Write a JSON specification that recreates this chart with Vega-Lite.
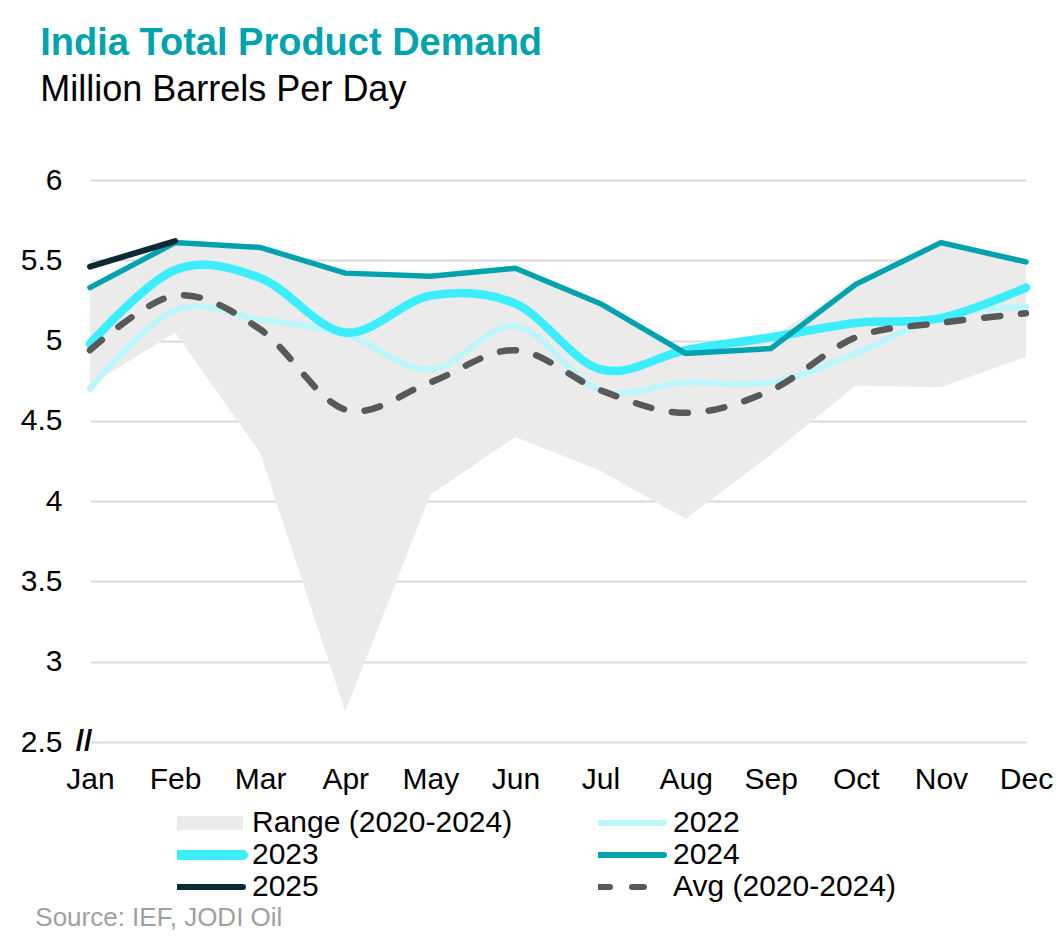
{
  "$schema": "https://vega.github.io/schema/vega-lite/v6.json",
  "background": "white",
  "padding": {"left": 20, "top": 25, "right": 20, "bottom": 5},
  "config": {"font": "Liberation Sans", "view": {"stroke": null}},
  "title": {"text": "Source: IEF, JODI Oil", "orient": "bottom", "anchor": "start", "frame": "bounds", "dx": 15, "fontSize": 26, "fontWeight": "normal", "color": "#A0A0A0", "font": "Liberation Sans", "offset": 2},
  "datasets": {
    "range": [
      {"month": "Jan", "series": "Range (2020-2024)", "low": 4.72, "high": 5.33},
      {"month": "Feb", "series": "Range (2020-2024)", "low": 5.05, "high": 5.61},
      {"month": "Mar", "series": "Range (2020-2024)", "low": 4.30, "high": 5.58},
      {"month": "Apr", "series": "Range (2020-2024)", "low": 2.69, "high": 5.42},
      {"month": "May", "series": "Range (2020-2024)", "low": 4.04, "high": 5.40},
      {"month": "Jun", "series": "Range (2020-2024)", "low": 4.40, "high": 5.45},
      {"month": "Jul", "series": "Range (2020-2024)", "low": 4.19, "high": 5.23},
      {"month": "Aug", "series": "Range (2020-2024)", "low": 3.89, "high": 4.94},
      {"month": "Sep", "series": "Range (2020-2024)", "low": 4.29, "high": 5.02},
      {"month": "Oct", "series": "Range (2020-2024)", "low": 4.72, "high": 5.35},
      {"month": "Nov", "series": "Range (2020-2024)", "low": 4.71, "high": 5.61},
      {"month": "Dec", "series": "Range (2020-2024)", "low": 4.90, "high": 5.49}
    ],
    "lines": [
      {"month": "Jan", "series": "2022", "value": 4.70},
      {"month": "Feb", "series": "2022", "value": 5.19},
      {"month": "Mar", "series": "2022", "value": 5.13},
      {"month": "Apr", "series": "2022", "value": 5.04},
      {"month": "May", "series": "2022", "value": 4.82},
      {"month": "Jun", "series": "2022", "value": 5.09},
      {"month": "Jul", "series": "2022", "value": 4.69},
      {"month": "Aug", "series": "2022", "value": 4.74},
      {"month": "Sep", "series": "2022", "value": 4.74},
      {"month": "Oct", "series": "2022", "value": 4.92},
      {"month": "Nov", "series": "2022", "value": 5.15},
      {"month": "Dec", "series": "2022", "value": 5.21},
      {"month": "Jan", "series": "2023", "value": 4.98},
      {"month": "Feb", "series": "2023", "value": 5.44},
      {"month": "Mar", "series": "2023", "value": 5.39},
      {"month": "Apr", "series": "2023", "value": 5.05},
      {"month": "May", "series": "2023", "value": 5.28},
      {"month": "Jun", "series": "2023", "value": 5.23},
      {"month": "Jul", "series": "2023", "value": 4.82},
      {"month": "Aug", "series": "2023", "value": 4.94},
      {"month": "Sep", "series": "2023", "value": 5.02},
      {"month": "Oct", "series": "2023", "value": 5.11},
      {"month": "Nov", "series": "2023", "value": 5.14},
      {"month": "Dec", "series": "2023", "value": 5.33},
      {"month": "Jan", "series": "2024", "value": 5.33},
      {"month": "Feb", "series": "2024", "value": 5.61},
      {"month": "Mar", "series": "2024", "value": 5.58},
      {"month": "Apr", "series": "2024", "value": 5.42},
      {"month": "May", "series": "2024", "value": 5.40},
      {"month": "Jun", "series": "2024", "value": 5.45},
      {"month": "Jul", "series": "2024", "value": 5.23},
      {"month": "Aug", "series": "2024", "value": 4.92},
      {"month": "Sep", "series": "2024", "value": 4.95},
      {"month": "Oct", "series": "2024", "value": 5.35},
      {"month": "Nov", "series": "2024", "value": 5.61},
      {"month": "Dec", "series": "2024", "value": 5.49},
      {"month": "Jan", "series": "2025", "value": 5.46},
      {"month": "Feb", "series": "2025", "value": 5.62},
      {"month": "Jan", "series": "Avg (2020-2024)", "value": 4.94},
      {"month": "Feb", "series": "Avg (2020-2024)", "value": 5.28},
      {"month": "Mar", "series": "Avg (2020-2024)", "value": 5.07},
      {"month": "Apr", "series": "Avg (2020-2024)", "value": 4.57},
      {"month": "May", "series": "Avg (2020-2024)", "value": 4.74},
      {"month": "Jun", "series": "Avg (2020-2024)", "value": 4.94},
      {"month": "Jul", "series": "Avg (2020-2024)", "value": 4.69},
      {"month": "Aug", "series": "Avg (2020-2024)", "value": 4.55},
      {"month": "Sep", "series": "Avg (2020-2024)", "value": 4.69},
      {"month": "Oct", "series": "Avg (2020-2024)", "value": 5.02},
      {"month": "Nov", "series": "Avg (2020-2024)", "value": 5.11},
      {"month": "Dec", "series": "Avg (2020-2024)", "value": 5.17}
    ],
    "brk": [{"month": "Jan", "value": 2.5, "label": "//"}]
  },
  "vconcat": [
    {
      "width": 936,
      "height": 562,
      "title": {"text": "India Total Product Demand", "subtitle": "Million Barrels Per Day", "anchor": "start", "frame": "bounds", "dx": 20, "fontSize": 38, "fontWeight": "bold", "color": "#00A3AD", "font": "Liberation Sans", "subtitleFont": "Liberation Sans", "subtitleFontSize": 36, "subtitleColor": "#000000", "subtitlePadding": 10, "offset": 57},
      "encoding": {
        "x": {"field": "month", "type": "ordinal", "scale": {"type": "point", "padding": 0, "domain": ["Jan","Feb","Mar","Apr","May","Jun","Jul","Aug","Sep","Oct","Nov","Dec"]},
              "axis": {"title": null, "labelAngle": 0, "labelFontSize": 30, "labelColor": "#000000", "labelPadding": 22, "ticks": false, "domain": false, "grid": false}},
        "color": {"field": "series", "type": "nominal", "scale": {"domain": ["Range (2020-2024)","2022","2023","2024","2025","Avg (2020-2024)"], "range": ["#EBEBEB","#BDF6FA","#3CEEFC","#00A3AD","#0C2A35","#595959"]},
                  "legend": {"title": null, "orient": "none", "legendX": 87, "legendY": 627, "direction": "horizontal", "columns": 2, "columnPadding": 85, "rowPadding": 0, "clipHeight": 32, "symbolType": "M-1,0H1", "symbolSize": 4356, "labelFontSize": 30, "labelColor": "#000000", "labelOffset": 9, "labelLimit": 400, "labelFont": "Liberation Sans",
                             "encode": {
                               "symbols": {"update": {
                                 "x": {"value": 33},
                                 "y": {"value": 16},
                                 "fill": {"value": "transparent"},
                                 "stroke": {"signal": "scale('color', datum.value)"},
                                 "strokeWidth": {"signal": "datum.value === 'Range (2020-2024)' ? 14 : datum.value === '2023' ? 10 : 6"},
                                 "strokeDash": {"signal": "datum.value === 'Avg (2020-2024)' ? [12, 22] : [1, 0]"},
                                 "strokeCap": {"signal": "datum.value === 'Range (2020-2024)' ? 'butt' : 'round'"},
                                 "opacity": {"value": 1}
                               }},
                               "labels": {"update": {
                                 "x": {"value": 75},
                                 "y": {"value": 16},
                                 "baseline": {"value": "middle"},
                                 "align": {"value": "left"}
                               }}
                             }}}
      },
      "layer": [
        {
          "data": {"name": "range"},
          "mark": {"type": "area", "interpolate": "linear", "opacity": 1},
          "encoding": {
            "y": {"field": "low", "type": "quantitative", "scale": {"domain": [2.5, 6], "zero": false, "nice": false},
                  "axis": {"title": null, "values": [2.5,3,3.5,4,4.5,5,5.5,6], "format": "~g", "labelFontSize": 30, "labelColor": "#000000", "labelPadding": 28, "ticks": false, "domain": false, "grid": true, "gridColor": "#D9D9D9", "gridWidth": 2}},
            "y2": {"field": "high"}
          }
        },
        {
          "data": {"name": "lines"},
          "transform": [{"filter": "datum.series === '2022'"}],
          "mark": {"type": "line", "interpolate": "cardinal", "strokeWidth": 6, "strokeCap": "round"},
          "encoding": {"y": {"field": "value", "type": "quantitative"}}
        },
        {
          "data": {"name": "lines"},
          "transform": [{"filter": "datum.series === '2023'"}],
          "mark": {"type": "line", "interpolate": "cardinal", "strokeWidth": 8.5, "strokeCap": "round"},
          "encoding": {"y": {"field": "value", "type": "quantitative"}}
        },
        {
          "data": {"name": "lines"},
          "transform": [{"filter": "datum.series === '2024'"}],
          "mark": {"type": "line", "interpolate": "linear", "strokeWidth": 5.5, "strokeCap": "round"},
          "encoding": {"y": {"field": "value", "type": "quantitative"}}
        },
        {
          "data": {"name": "lines"},
          "transform": [{"filter": "datum.series === '2025'"}],
          "mark": {"type": "line", "interpolate": "linear", "strokeWidth": 6, "strokeCap": "round"},
          "encoding": {"y": {"field": "value", "type": "quantitative"}}
        },
        {
          "data": {"name": "lines"},
          "transform": [{"filter": "datum.series === 'Avg (2020-2024)'"}],
          "mark": {"type": "line", "interpolate": "cardinal", "strokeWidth": 6.5, "strokeCap": "round", "strokeDash": [16, 21]},
          "encoding": {"y": {"field": "value", "type": "quantitative"}}
        },
        {
          "data": {"name": "brk"},
          "mark": {"type": "text", "fontSize": 30, "fontWeight": "bold", "dx": -6, "color": "#000000", "font": "Liberation Sans"},
          "encoding": {
            "y": {"field": "value", "type": "quantitative"},
            "text": {"field": "label"},
            "color": null
          }
        }
      ]
    }
  ]
}
